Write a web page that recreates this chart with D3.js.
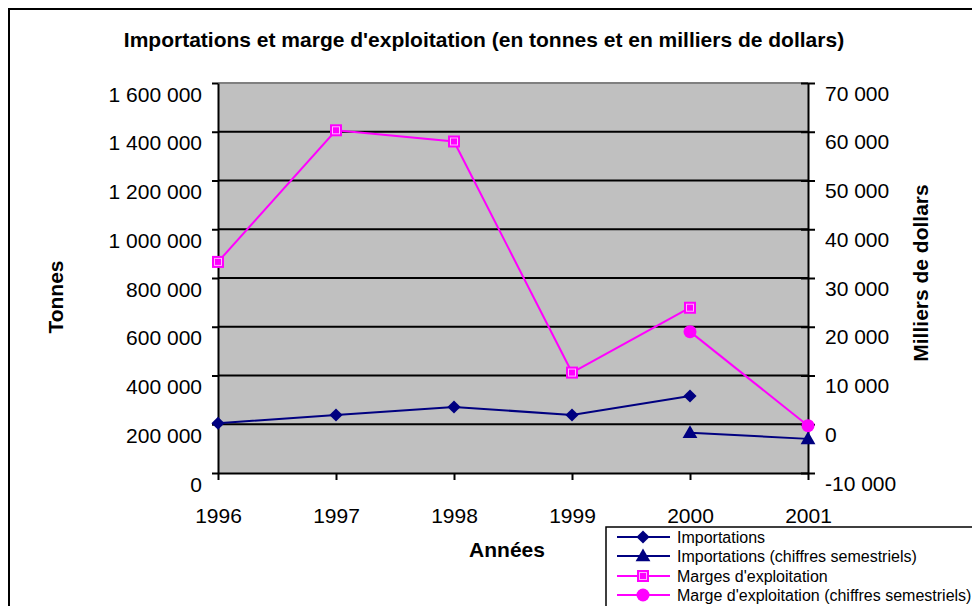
<!DOCTYPE html>
<html><head><meta charset="utf-8">
<script src="https://cdn.jsdelivr.net/npm/d3@7"></script>
<style>body{margin:0;background:#fff}svg{display:block;font-family:"Liberation Sans",Arial,sans-serif}</style>
</head><body><svg id="c" width="972" height="606"></svg>
<script>
const years = [1996, 1997, 1998, 1999, 2000, 2001];
const importations = [204000, 238000, 271000, 238000, 316000, null];
const importationsSem = [null, null, null, null, 165000, 140000];
const marges = [33300, 60300, 58000, 10600, 23900, null];
const margesSem = [null, null, null, null, 19000, -300];
const leftTicks = [0, 200000, 400000, 600000, 800000, 1000000, 1200000, 1400000, 1600000];
const rightTicks = [-10000, 0, 10000, 20000, 30000, 40000, 50000, 60000, 70000];
const seriesNames = ["Importations", "Importations (chiffres semestriels)", "Marges d'exploitation", "Marge d'exploitation (chiffres semestriels)"];

const svg = d3.select("#c");
const loc = d3.formatLocale({decimal: ",", thousands: " ", grouping: [3], currency: ["", ""], minus: "-"});
const fmt = loc.format(",d");
const L = 218, R = 808, T = 83, B = 473;
const NAVY = "#000080", MAG = "#FF00FF";
const FS = 21;

// outer border
svg.append("rect").attr("x", 9).attr("y", 9).attr("width", 1000).attr("height", 700)
  .attr("fill", "#fff").attr("stroke", "#000").attr("stroke-width", 2);

const x = d3.scalePoint().domain(years).range([L, R]);
const yL = d3.scaleLinear().domain([0, 1600000]).range([B, T]);
const yR = d3.scaleLinear().domain([-10000, 70000]).range([B, T]);

// plot area
svg.append("rect").attr("x", L).attr("y", T).attr("width", R - L).attr("height", B - T).attr("fill", "#C0C0C0");
svg.append("line").attr("x1", L).attr("x2", R).attr("y1", T).attr("y2", T).attr("stroke", "#808080").attr("stroke-width", 2);

// gridlines
svg.append("g").selectAll("line").data(leftTicks.filter(d => d > 0 && d < 1600000)).join("line")
  .attr("x1", L).attr("x2", R).attr("y1", d => yL(d)).attr("y2", d => yL(d))
  .attr("stroke", "#000").attr("stroke-width", 2);

// left axis
const gl = svg.append("g").attr("transform", `translate(${L},0)`)
  .call(d3.axisLeft(yL).tickValues(leftTicks).tickFormat(fmt).tickSize(6).tickSizeOuter(0));
gl.select(".domain").attr("stroke-width", 2);
gl.selectAll(".tick line").attr("stroke-width", 2);
gl.selectAll(".tick text").attr("font-size", FS).attr("fill", "#000").attr("x", -16).attr("y", 18).attr("dy", 0).attr("font-family", "Liberation Sans, Arial");

// right axis
const gr = svg.append("g").attr("transform", `translate(${R},0)`)
  .call(d3.axisRight(yR).tickValues(rightTicks).tickFormat(fmt).tickSize(7).tickSizeOuter(0));
gr.select(".domain").attr("stroke-width", 2);
gr.selectAll(".tick line").attr("stroke-width", 2).attr("x1", -7);
gr.selectAll(".tick text").attr("font-size", FS).attr("fill", "#000").attr("x", 17).attr("y", 17).attr("dy", 0).attr("font-family", "Liberation Sans, Arial");

// bottom axis
const gb = svg.append("g").attr("transform", `translate(0,${B})`)
  .call(d3.axisBottom(x).tickSize(7).tickSizeOuter(0));
gb.select(".domain").attr("stroke-width", 2);
gb.selectAll(".tick line").attr("stroke-width", 2);
gb.selectAll(".tick text").attr("font-size", FS).attr("fill", "#000").attr("y", 50).attr("dy", 0).attr("font-family", "Liberation Sans, Arial");

// series
function drawLine(vals, scale, color) {
  const pts = years.map((yr, i) => [yr, vals[i]]).filter(d => d[1] != null);
  svg.append("path").datum(pts)
    .attr("d", d3.line().x(d => x(d[0])).y(d => scale(d[1])))
    .attr("fill", "none").attr("stroke", color).attr("stroke-width", 2);
  return pts;
}
const symDiamond = d3.symbol().type(d3.symbolDiamond2).size(110);
const symTri = d3.symbol().type(d3.symbolTriangle).size(95);

function diamonds(g, pts, scale) {
  g.selectAll(null).data(pts).join("path").attr("d", symDiamond)
    .attr("transform", d => `translate(${x(d[0])},${scale(d[1])})`).attr("fill", NAVY);
}
function triangles(g, pts, scale) {
  g.selectAll(null).data(pts).join("path").attr("d", symTri)
    .attr("transform", d => `translate(${x(d[0])},${scale(d[1]) + 1})`).attr("fill", NAVY);
}
function squares(g, pts, scale) {
  const s = g.selectAll(null).data(pts).join("g").attr("transform", d => `translate(${x(d[0])},${scale(d[1])})`);
  s.append("rect").attr("x", -6).attr("y", -6).attr("width", 12).attr("height", 12).attr("fill", MAG);
  s.append("rect").attr("x", -3.5).attr("y", -3.5).attr("width", 7).attr("height", 7).attr("fill", "none").attr("stroke", "#FFB0FF").attr("stroke-width", 1);
}
function circles(g, pts, scale) {
  g.selectAll(null).data(pts).join("circle").attr("cx", d => x(d[0])).attr("cy", d => scale(d[1])).attr("r", 6.5).attr("fill", MAG);
}

const p1 = drawLine(importations, yL, NAVY);
const p2 = drawLine(importationsSem, yL, NAVY);
const p3 = drawLine(marges, yR, MAG);
const p4 = drawLine(margesSem, yR, MAG);
diamonds(svg.append("g"), p1, yL);
triangles(svg.append("g"), p2, yL);
squares(svg.append("g"), p3, yR);
circles(svg.append("g"), p4, yR);

// titles
svg.append("text").attr("x", 484).attr("y", 47).attr("text-anchor", "middle")
  .attr("font-size", 21).attr("font-weight", "bold").text("Importations et marge d'exploitation (en tonnes et en milliers de dollars)");
svg.append("text").attr("transform", "translate(63,297) rotate(-90)").attr("text-anchor", "middle")
  .attr("font-size", 21).attr("font-weight", "bold").text("Tonnes");
svg.append("text").attr("transform", "translate(928,273) rotate(-90)").attr("text-anchor", "middle")
  .attr("font-size", 21).attr("font-weight", "bold").text("Milliers de dollars");
svg.append("text").attr("x", 507).attr("y", 557).attr("text-anchor", "middle")
  .attr("font-size", 21).attr("font-weight", "bold").text("Années");

// legend
const lg = svg.append("g");
lg.append("rect").attr("x", 606).attr("y", 527).attr("width", 400).attr("height", 100)
  .attr("fill", "#fff").attr("stroke", "#000").attr("stroke-width", 1.5);
const rowsY = [537, 556, 576, 595];
const colors = [NAVY, NAVY, MAG, MAG];
seriesNames.forEach((name, i) => {
  const y = rowsY[i];
  lg.append("line").attr("x1", 617).attr("x2", 670).attr("y1", y).attr("y2", y).attr("stroke", colors[i]).attr("stroke-width", 2);
  const m = lg.append("g").attr("transform", `translate(643,${y})`);
  if (i === 0) m.append("path").attr("d", symDiamond).attr("fill", NAVY);
  if (i === 1) m.append("path").attr("d", symTri).attr("fill", NAVY).attr("transform", "translate(0,1)");
  if (i === 2) {
    m.append("rect").attr("x", -6).attr("y", -6).attr("width", 12).attr("height", 12).attr("fill", MAG);
    m.append("rect").attr("x", -3.5).attr("y", -3.5).attr("width", 7).attr("height", 7).attr("fill", "none").attr("stroke", "#FFB0FF");
  }
  if (i === 3) m.append("circle").attr("r", 6.5).attr("fill", MAG);
  lg.append("text").attr("x", 677).attr("y", y + 6).attr("font-size", 16).text(name);
});
</script></body></html>
